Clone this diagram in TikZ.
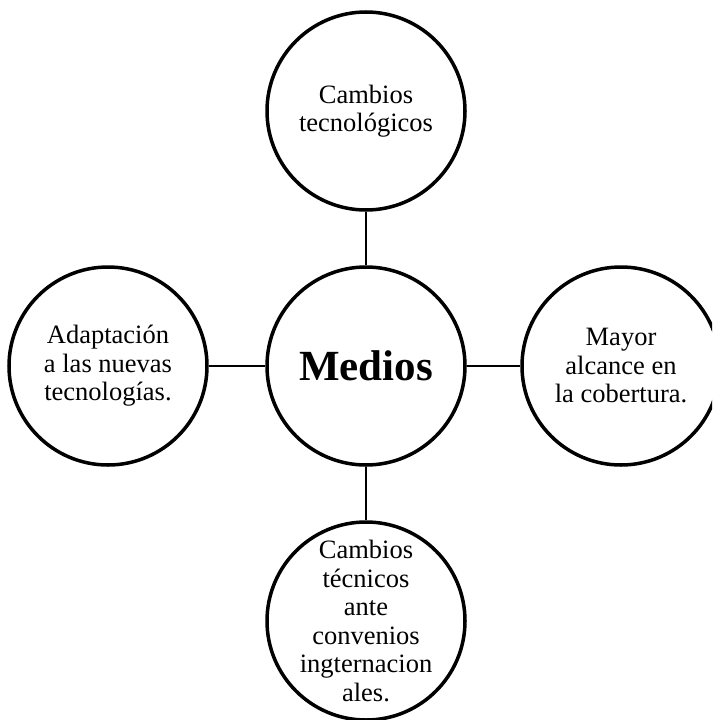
\documentclass[tikz,border=0pt]{standalone}
\usepackage{fontspec}
\setmainfont{Liberation Serif}
\begin{document}
\begin{tikzpicture}[x=1pt,y=-1pt,
  bubble/.style={draw=black, line width=3.5pt, circle, minimum size=198pt,
    inner sep=0pt, align=center, font=\fontsize{26.5}{28.5}\selectfont},
  hub/.style={bubble, font=\fontsize{43}{46}\selectfont\bfseries},
  link/.style={draw=black, line width=2pt}]
  \useasboundingbox (0,0) rectangle (712,720);
  \clip (0,0) rectangle (712,720);

  % central topic
  \node[hub] (mid) at (366,366) {Medios};

  % surrounding ideas
  \node[bubble] (top) at (366,111) {Cambios\\tecnológicos};
  \node[bubble] (left) at (108,366) {Adaptación\\a las nuevas\\tecnologías.};
  \node[bubble] (right) at (621,366) {Mayor\\alcance en\\la cobertura.};
  % the six-line text is taller than the circle: a negative inner sep keeps
  % the circle at the common size
  \node[bubble, inner sep=-20pt] (bottom) at (366,621)
    {Cambios\\técnicos\\ante\\convenios\\ingternacion\\ales.};

  % connectors
  \draw[link] (top) -- (mid);
  \draw[link] (left) -- (mid);
  \draw[link] (right) -- (mid);
  \draw[link] (bottom) -- (mid);
\end{tikzpicture}
\end{document}
